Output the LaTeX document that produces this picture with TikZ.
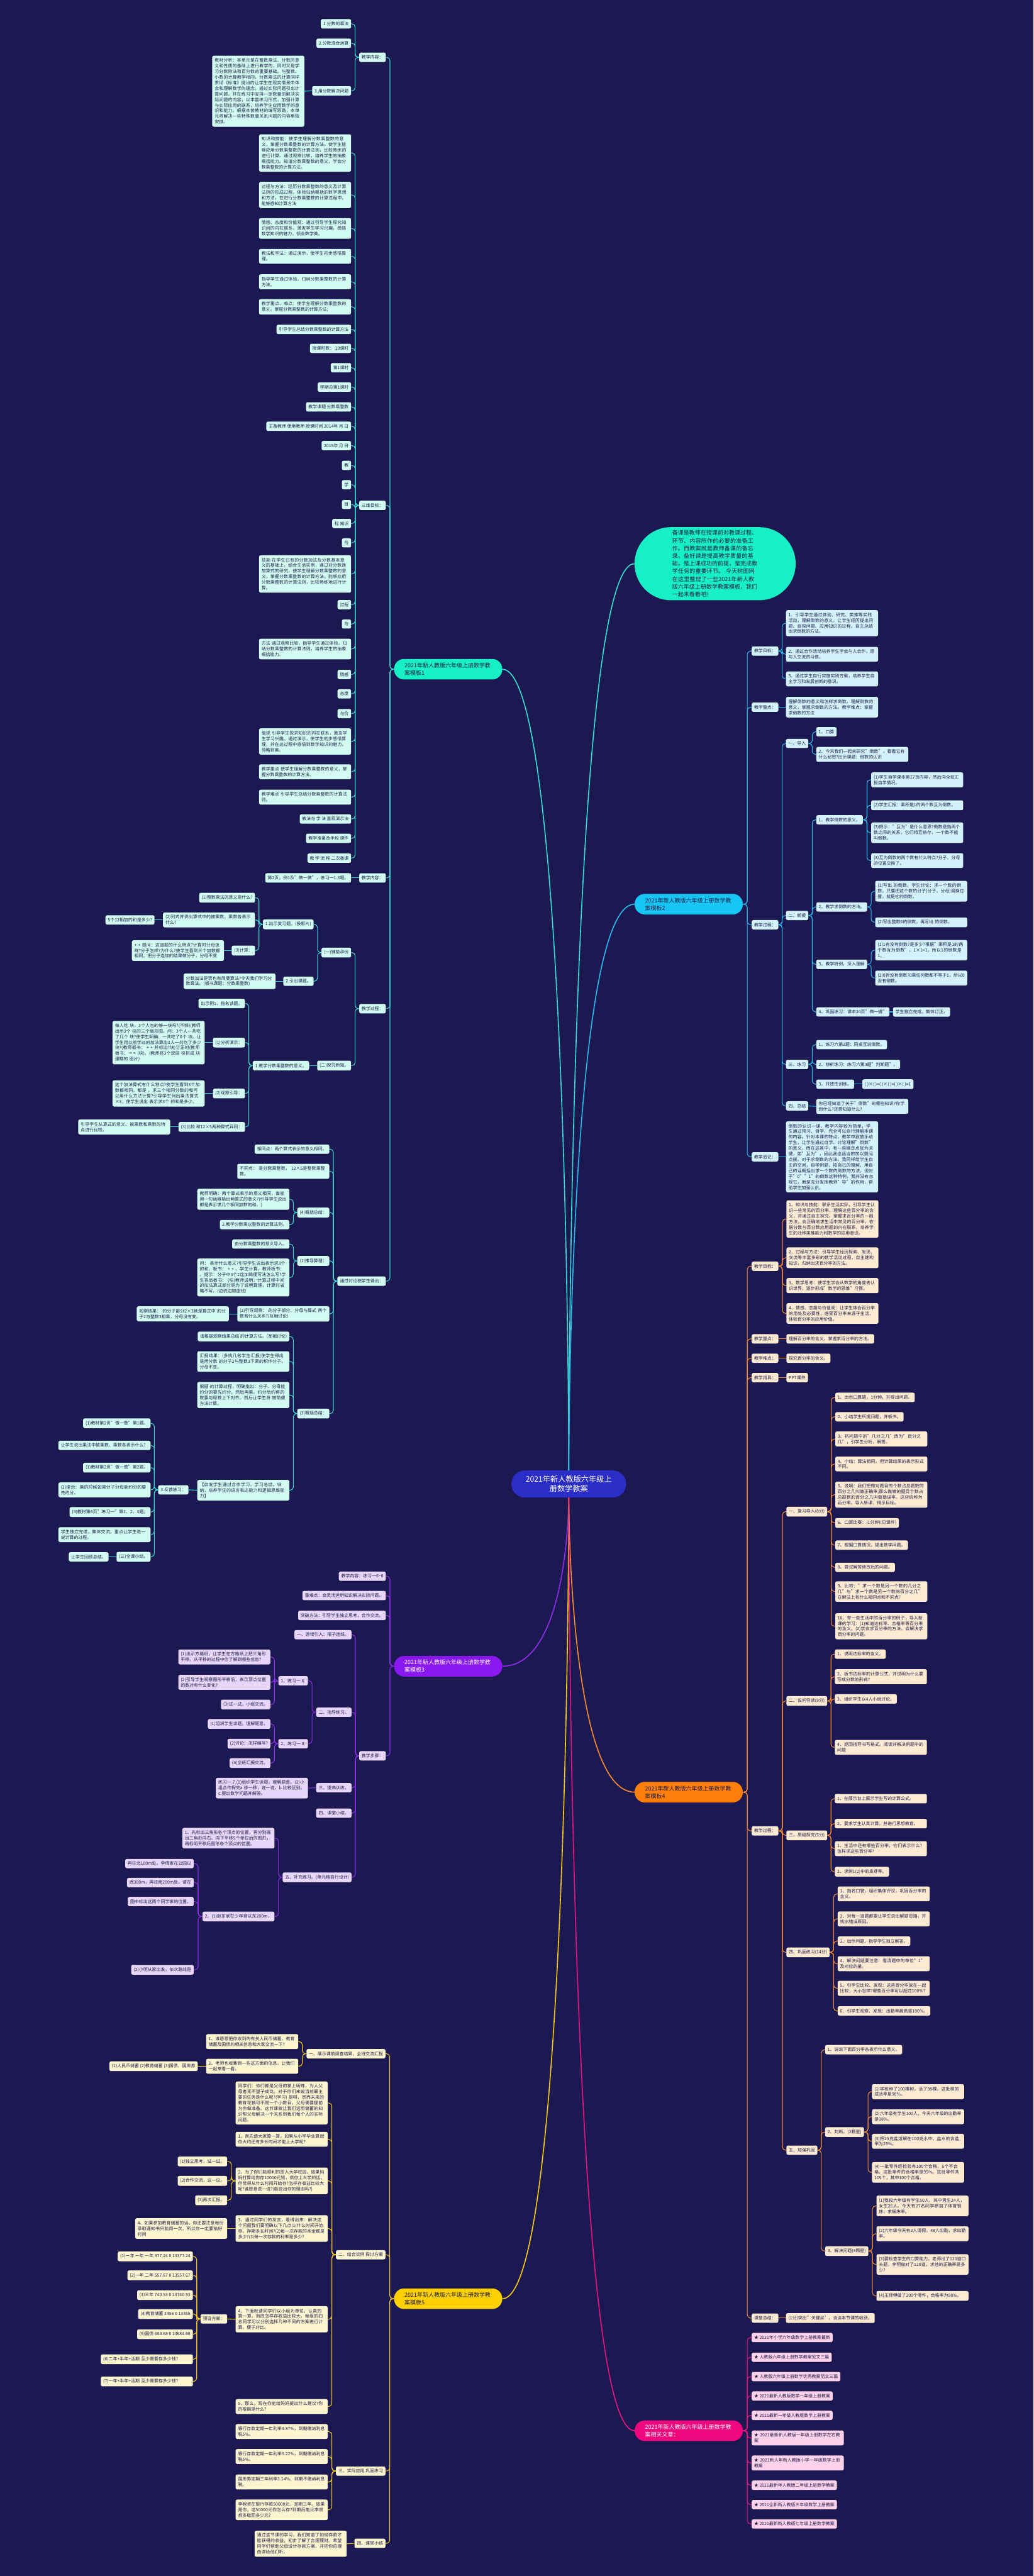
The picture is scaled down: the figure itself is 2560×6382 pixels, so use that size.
\documentclass[tikz,border=0pt]{standalone}
\usepackage{fontspec}
\setmainfont{Noto Sans CJK SC}
\usetikzlibrary{calc}
\XeTeXlinebreaklocale "zh"
\XeTeXlinebreakskip=0pt plus 1pt
\definecolor{bgc}{HTML}{1B1852}
\definecolor{dtx}{HTML}{1C1C48}
\definecolor{cC}{HTML}{2A2DC6}
\definecolor{gB}{HTML}{17F0C4}\definecolor{gf}{HTML}{D2FCF1}\definecolor{gL}{HTML}{36D8D0}
\definecolor{cB}{HTML}{17C6F4}\definecolor{cf}{HTML}{D3F2FB}\definecolor{cL}{HTML}{2AB8EA}
\definecolor{oB}{HTML}{FF7F0A}\definecolor{of}{HTML}{FDEAD3}\definecolor{oL}{HTML}{F58A2E}
\definecolor{pB}{HTML}{8A18F0}\definecolor{pf}{HTML}{E7D6FA}\definecolor{pL}{HTML}{8F2DEB}
\definecolor{yB}{HTML}{FFD100}\definecolor{yf}{HTML}{FDF4D0}\definecolor{yL}{HTML}{F3C614}
\definecolor{mB}{HTML}{EF087D}\definecolor{mf}{HTML}{FDD2EA}\definecolor{mL}{HTML}{E3167F}
\colorlet{fc}{gf}\colorlet{lc}{gL}
\tikzset{
 lf/.style={fill=fc,text=dtx,rounded corners=4pt,inner xsep=6pt,inner ysep=6.5pt,align=left,font=\fontsize{10.8}{13.9}\selectfont},
 w/.style={text width=216pt},
 lk/.style={draw=lc,line width=1.7pt,rounded corners=8pt},
 br/.style={rounded corners=25pt,inner xsep=26pt,inner ysep=6pt,text width=216pt,minimum height=51pt,align=left,font=\fontsize{14}{19}\selectfont},
 cv/.style={line width=2.6pt},
}
\newcommand\nl[5]{\node[lf,anchor=east,#1] (#2) at (#3,#4) {#5};}
\newcommand\nr[5]{\node[lf,anchor=west,#1] (#2) at (#3,#4) {#5};}
\newcommand\kL[2]{\foreach \kk in {#2}{\draw[lk] (#1.west) -| ($(#1.west)!.5!(\kk.east)$) |- (\kk.east);}}
\newcommand\kR[2]{\foreach \kk in {#2}{\draw[lk] (#1.east) -| ($(#1.east)!.5!(\kk.west)$) |- (\kk.west);}}
\newcommand\sL[2]{\draw[lk] (#1.west) -- (#2.east);}
\newcommand\sR[2]{\draw[lk] (#1.east) -- (#2.west);}
\begin{document}
\begin{tikzpicture}[x=1pt,y=-1pt]
\useasboundingbox (0,0) rectangle (2560,6382);
\fill[bgc] (0,0) rectangle (2560,6382);

% ===== center and intro =====
\node[fill=cC,text=white,rounded corners=33pt,minimum width=284pt,minimum height=67pt,align=center,font=\fontsize{19}{24}\selectfont] (C) at (1409,3676.5) {2021年新人教版六年级上\\册数学教案};
\node[fill=gB,text=dtx,rounded corners=90pt,minimum width=399pt,minimum height=181pt,text width=212pt,align=left,font=\fontsize{14}{19}\selectfont] (I) at (1771.5,1396.5) {备课是教师在授课前对教课过程、环节、内容所作的必要的准备工作。而教案就是教师备课的备忘录。备好课是提高教学质量的基础，是上课成功的前提，是完成教学任务的重要环节。 今天树图网在这里整理了一些2021年新人教版六年级上册数学教案模板，我们一起来看看吧!};

% ===== GREEN branch (template 1) =====
\begin{scope}
\colorlet{fc}{gf}\colorlet{lc}{gL}
\node[br,fill=gB,text=dtx,anchor=west] (G) at (976,1658) {2021年新人教版六年级上册数学教\\案模板1};
\nl{}{g1}{956}{142}{教学内容：}
\nl{}{g2}{956}{1252}{三维目标：}
\nl{}{g3}{956}{2175}{教学内容：}
\nl{}{g4}{956}{2499}{教学过程：}
\nl{}{g5}{956}{3174}{通过讨论使学生得出：}
\kL{G}{g1,g2,g3,g4,g5}
\nl{}{g1a}{870}{59}{1.分数的乘法}
\nl{}{g1b}{870}{107}{2.分数混合运算}
\nl{}{g1c}{870}{225}{3.用分数解决问题}
\kL{g1}{g1a,g1b,g1c}
\nl{w}{g1c1}{754}{226}{教材分析：本单元是在整数乘法、分数的意义和性质的基础上进行教学的，同时又是学习分数除法和百分数的重要基础。与整数、小数的计算教学相同，分数乘法的计算同样贯彻《标准》提出的让学生在现实情景中体会和理解数学的理念，通过实际问题引出计算问题，并在练习中安排一定数量的解决实际问题的内容，以丰富练习形式，加强计算与实际应用的联系，培养学生应用数学的意识和能力。根据本套教材的编写思路，本单元将解决一些特殊数量关系问题的内容单独安排。}
\sL{g1c}{g1c1}
\nl{w}{g2a}{870}{379}{知识和技能：使学生理解分数乘整数的意义，掌握分数乘整数的计算方法。使学生能够应用分数乘整数的计算法则，比较熟练的进行计算。通过观察比较，培养学生的抽象概括能力。知道分数乘整数的意义，学会分数乘整数的计算方法。}
\nl{w}{g2b}{870}{483}{过程与方法：经历分数乘整数的意义及计算法则的形成过程，体验归纳概括的数学思想和方法。在进行分数乘整数的计算过程中，能够感知计算方法}
\nl{w}{g2c}{870}{566}{情感、态度和价值观：通过引导学生探究知识间的内在联系，激发学生学习兴趣，感悟数学知识的魅力，领会数学美。}
\nl{w}{g2d}{870}{635}{教法和学法：通过演示，使学生初步感悟算理。}
\nl{w}{g2e}{870}{698}{指导学生通过体验，归纳分数乘整数的计算方法。}
\nl{w}{g2f}{870}{760}{教学重点、难点：使学生理解分数乘整数的意义。掌握分数乘整数的计算方法;}
\nl{}{g2g}{870}{816}{引导学生总结分数乘整数的计算方法}
\nl{}{g2h}{870}{863}{授课时数： 10课时}
\nl{}{g2i}{870}{911}{第1课时}
\nl{}{g2j}{870}{959}{学期总第1课时}
\nl{}{g2k}{870}{1008}{教学课题 分数乘整数}
\nl{}{g2l}{870}{1056}{主备教师 使用教师 授课时间 2014年 月 日}
\nl{}{g2m}{870}{1104}{2015年 月 日}
\nl{}{g2n}{870}{1153}{教}
\nl{}{g2o}{870}{1201}{学}
\nl{}{g2p}{870}{1250}{目}
\nl{}{g2q}{870}{1297}{标 知识}
\nl{}{g2r}{870}{1345}{与}
\nl{w}{g2s}{870}{1422}{技能 在学生已有的分数加法及分数基本意义的基础上，结合生活实例，通过对分数连加算式的研究，使学生理解分数乘整数的意义，掌握分数乘整数的计算方法，能够应用分数乘整数的计算法则，比较熟练地进行计算。}
\nl{}{g2t}{870}{1498}{过程}
\nl{}{g2u}{870}{1546}{与}
\nl{w}{g2v}{870}{1608}{方法 通过观察比较，指导学生通过体验，归纳分数乘整数的计算法则，培养学生的抽象概括能力。}
\nl{}{g2w}{870}{1671}{情感}
\nl{}{g2x}{870}{1719}{态度}
\nl{}{g2y}{870}{1768}{与价}
\nl{w}{g2z}{870}{1837}{值观 引导学生探求知识的内在联系，激发学生学习兴趣。通过演示，使学生初步感悟算理，并在这过程中感悟到数学知识的魅力，领略到美。}
\nl{w}{g2A}{870}{1912}{教学重点 使学生理解分数乘整数的意义，掌握分数乘整数的计算方法。}
\nl{w}{g2B}{870}{1975}{教学难点 引导学生总结分数乘整数的计算法则。}
\nl{}{g2C}{870}{2029}{教法与 学 法 直观演示法}
\nl{}{g2D}{870}{2077}{教学准备及手段 课件}
\nl{}{g2E}{870}{2126}{教 学 流 程 二次备课}
\kL{g2}{g2a,g2b,g2c,g2d,g2e,g2f,g2g,g2h,g2i,g2j,g2k,g2l,g2m,g2n,g2o,g2p,g2q,g2r,g2s,g2t,g2u,g2v,g2w,g2x,g2y,g2z,g2A,g2B,g2C,g2D,g2E}
\nl{}{g3a}{870}{2175}{第2页，例1及"做一做"，练习一1-3题。}
\sL{g3}{g3a}
\nl{}{g4a}{870}{2360}{(一)铺垫孕伏}
\nl{}{g4b}{870}{2640}{(二)探究新知。}
\kL{g4}{g4a,g4b}
\nl{}{g4a1}{777}{2290}{1.出示复习题。(投影片)}
\nl{}{g4a2}{777}{2431}{2.引出课题。}
\kL{g4a}{g4a1,g4a2}
\nl{}{g4a1a}{632}{2224}{(1)整数乘法的意义是什么?}
\nl{w}{g4a1b}{632}{2279}{(2)列式并说出算式中的被乘数、乘数各表示什么?}
\nl{}{g4a1c}{632}{2355}{(3)计算：}
\kL{g4a1}{g4a1a,g4a1b,g4a1c}
\nl{}{g4a1b1}{383}{2279}{5个12相加的和是多少?}
\sL{g4a1b}{g4a1b1}
\nl{w}{g4a1c1}{555}{2355}{+ + 提问：这道题的什么特点?计算时分母怎样?分子怎样?为什么?使学生看到三个加数都相同，把分子连加的结果做分子，分母不变}
\sL{g4a1c}{g4a1c1}
\nl{w}{g4a2a}{683}{2431}{分数加法是否也有简便算法?今天我们学习分数乘法。(板书课题：分数乘整数)}
\sL{g4a2}{g4a2a}
\nl{}{g4b1}{766}{2640}{1.教学分数乘整数的意义。}
\sL{g4b}{g4b1}
\nl{}{g4b1a}{607}{2486}{出示例1，指名读题。}
\nl{}{g4b1b}{607}{2583}{(1)分析演示：}
\nl{}{g4b1c}{607}{2709}{(2)观察引导：}
\nl{}{g4b1d}{607}{2792}{(3)比较 和12×5两种算式异同：}
\kL{g4b1}{g4b1a,g4b1b,g4b1c,g4b1d}
\nl{w}{g4b1b1}{507}{2583}{每人吃 块，3个人吃的够一块吗?(不够)(教师出示3个 块的三个扇形图。问：3个人一共吃了几个 块?使学生明确：一共吃了6个 块。让学生用以前学过的加法算出3人一共吃了多少块?(教师板书： + + 并标出?块)订正时(教师板书： = = (块)。(教师将3个双层 块拼成 块蛋糕的 图片)}
\sL{g4b1b}{g4b1b1}
\nl{w}{g4b1c1}{507}{2709}{这个加法算式有什么特点?使学生看到3个加数都相同，都是 ，求三个相同分数的和可以用什么方法计算?引导学生列出乘法算式 ×3，使学生说出 表示求3个 的和是多少。}
\sL{g4b1c}{g4b1c1}
\nl{w}{g4b1d1}{422}{2792}{引导学生从算式的意义、被乘数和乘数的特点进行比较。}
\sL{g4b1d}{g4b1d1}
\nl{}{g5a}{816}{2847}{相同点：两个算式表示的意义相同。}
\nl{w}{g5b}{816}{2902}{不同点： 是分数乘整数， 12×5是整数乘整数。}
\nl{}{g5c}{816}{3004}{(4)概括总结：}
\nl{}{g5d}{816}{3124}{(1)推导算理：}
\nl{w}{g5e}{816}{3255}{(2)引导观察： 的分子部分、分母与算式 两个数有什么关系?(互相讨论)}
\nl{}{g5f}{816}{3502}{(3)概括总结：}
\kL{g5}{g5a,g5b,g5c,g5d,g5e,g5f}
\nl{w}{g5c1}{717}{2971}{教师明确：两个算式表示的意义相同，谁能用一句话概括出两算式的意义?(引导学生说出都是表示求几个相同加数的和。)}
\nl{}{g5c2}{717}{3034}{2.教学分数乘以整数的计算法则。}
\kL{g5c}{g5c1,g5c2}
\nl{}{g5d1}{717}{3082}{由分数乘整数的意义导入。}
\nl{w}{g5d2}{717}{3165}{问： 表示什么意义?引导学生说出表示求3个 的和。板书： + + 。学生计算，教师板书： 。提示：分子中3个2连加简便写法怎么写?学生答后板书： (块)教师说明：计算过程中间的加法算式部分是为了说明算理，计算时省略不写。(边说边加虚线)}
\kL{g5d}{g5d1,g5d2}
\nl{w}{g5e1}{567}{3255}{观察结果： 的分子部分2×3就是算式中 的分子2与整数3相乘，分母没有变。}
\sL{g5e}{g5e1}
\nl{}{g5f1}{717}{3311}{请根据观察结果总结 的计算方法。(互相讨论)}
\nl{w}{g5f2}{717}{3373}{汇报结果：(多找几名学生汇报)使学生得出 是用分数 的分子2与整数3下乘的积作分子，分母不变。}
\nl{w}{g5f3}{717}{3456}{根据 的计算过程，明确指出：分子、分母能约分的要先约分，然后再乘。约分后约得的数要与原数上下对齐。然后让学生将 按简便方法计算。}
\nl{w}{g5f4}{717}{3692}{【启发学生通过合作学习，学习总结、归纳，培养学生的语言表达能力和逻辑思维能力】}
\kL{g5f}{g5f1,g5f2,g5f3,g5f4}
\nl{}{g5f4a}{467}{3691}{3.反馈练习：}
\sL{g5f4}{g5f4a}
\nl{}{h1}{373}{3526}{(1)教材第2页"做一做"第1题。}
\nl{w}{h2}{373}{3581}{让学生说出乘法中被乘数、乘数各表示什么?}
\nl{}{h3}{373}{3636}{(1)教材第2页"做一做"第2题。}
\nl{w}{h4}{373}{3691}{(2)提示：乘的时候如果分子分母能约分的要先约分。}
\nl{}{h5}{373}{3746}{(3)教材第6页"练习一"第1、2、3题。}
\nl{w}{h6}{373}{3802}{学生独立完成，集体交流，重点让学生说一说计算的过程。}
\nl{}{h7}{373}{3857}{(三)全课小结。}
\kL{g5f4a}{h1,h2,h3,h4,h5,h6,h7}
\nl{}{h7a}{269}{3857}{让学生回顾总结。}
\sL{h7}{h7a}
\end{scope}

% ===== PURPLE branch (template 3) =====
\begin{scope}
\colorlet{fc}{pf}\colorlet{lc}{pL}
\node[br,fill=pB,text=white,anchor=west] (P) at (976,4128) {2021年新人教版六年级上册数学教\\案模板3};
\nl{}{p1}{956}{3905}{教学内容：练习一6\textasciitilde 8}
\nl{}{p2}{956}{3953}{重难点：会灵活运用知识解决实际问题。}
\nl{}{p3}{956}{4002}{突破方法：引导学生独立思考，合作交流。}
\nl{}{p4}{956}{4350}{教学步骤：}
\kL{P}{p1,p2,p3,p4}
\nl{}{p4a}{871}{4050}{一、游戏引入：摆子连线。}
\nl{}{p4b}{871}{4242}{二、指导练习。}
\nl{}{p4c}{871}{4429}{三、提高训练。}
\nl{}{p4d}{871}{4492}{四、课堂小结。}
\nl{}{p4e}{871}{4651}{五、补充练习。(单元格自行设计)}
\kL{p4}{p4a,p4b,p4c,p4d,p4e}
\nl{}{p4b1}{763}{4164}{1、练习一.6.}
\nl{}{p4b2}{763}{4320}{2、练习一.8.}
\kL{p4b}{p4b1,p4b2}
\nl{w}{p4b1a}{670}{4105}{(1)出示方格纸，让学生在方格纸上把三角形平移。从平移的过程中你了解到哪些信息?}
\nl{w}{p4b1b}{670}{4168}{(2)引导学生观察图形平移后，表示顶点位置的数对有什么变化?}
\nl{}{p4b1c}{670}{4223}{(3)试一试，小组交流。}
\kL{p4b1}{p4b1a,p4b1b,p4b1c}
\nl{}{p4b2a}{670}{4271}{(1)组织学生读题，理解题意。}
\nl{}{p4b2b}{670}{4320}{(2)讨论：怎样编号?}
\nl{}{p4b2c}{670}{4368}{(3)全班汇报交流。}
\kL{p4b2}{p4b2a,p4b2b,p4b2c}
\nl{w}{p4c1}{763}{4430}{练习一.7.(1)组织学生读题，理解题意。(2)小组合作探究a.移一移，说一说。b.比较区别。c.提出数学问题并解答。}
\sL{p4c}{p4c1}
\nl{w}{p4e1}{680}{4554}{1、先标出三角形各个顶点的位置，再分别画出三角形向右、向下平移5个单位后的图形，再标明平移后图形各个顶点的位置。}
\nl{}{p4e2}{680}{4748}{2、(1)赵东家在少年宫以东200m，}
\kL{p4e}{p4e1,p4e2}
\nl{}{p4e2a}{480}{4617}{再往北100m处。李倩家在公园以}
\nl{}{p4e2b}{480}{4664}{西300m，再往南200m处。请在}
\nl{}{p4e2c}{480}{4711}{图中标出这两个同学家的位置。}
\nl{}{p4e2d}{480}{4880}{(2)小明从家出发，依次路线是}
\kL{p4e2}{p4e2a,p4e2b,p4e2c,p4e2d}
\end{scope}

% ===== YELLOW branch (template 5) =====
\begin{scope}
\colorlet{fc}{yf}\colorlet{lc}{yL}
\node[br,fill=yB,text=dtx,anchor=west] (Y) at (976,5695) {2021年新人教版六年级上册数学教\\案模板5};
\nl{}{y1}{955}{5088}{一、展示课前调查结果，全班交流汇报}
\nl{}{y2}{955}{5586}{二、结合实例 探讨方案}
\nl{}{y3}{955}{6122}{三、实际应用 巩固练习}
\nl{}{y4}{955}{6301}{四、课堂小结}
\kL{Y}{y1,y2,y3,y4}
\nl{w}{y1a}{739}{5058}{1、谁愿意把你收到的有关人民币储蓄、教育储蓄及国债的相关信息和大家交流一下?}
\nl{w}{y1b}{739}{5119}{2、老师也收集到一些这方面的信息，让我们一起来看一看。}
\kL{y1}{y1a,y1b}
\nl{}{y1b1}{490}{5119}{(1)人民币储蓄 (2)教育储蓄 (3)国债、国库券}
\sL{y1b}{y1b1}
\nl{w}{y2a}{812}{5210}{同学们：你们都是父母的掌上明珠，为人父母者无不望子成龙。对于你们来说当前最主要的任务是什么呢?(学习) 是呀，然而未来的教育花销可不是一个小数目，父母需要提前为你做准备。这节课就让我们运用储蓄的知识帮父母解决一个关系到我们每个人的实际问题。}
\nl{w}{y2b}{812}{5300}{1、首先请大家算一算，如果从小学毕业算起你大约还有多长时间才能上大学呢?}
\nl{w}{y2c}{812}{5403}{2、为了你们能顺利的走入大学校园，如果妈妈打算给你存10000元钱，供你上大学的话，你觉得从什么时间开始存?怎样存收益比较大呢?谁愿意说一说?(能说出你的理由吗?)}
\nl{w}{y2d}{812}{5521}{3、通过同学们的发言，看得出来：解决这个问题我们要明确以下几点(1)什么时间开始存，存期多长时间?(2)每一次存款的本金都是多少?(3)每一次存款的利率是多少?}
\nl{w}{y2e}{812}{5746}{4、下面就请同学们以小组为单位，认真的算一算，到底怎样存收益比较大。每组的四名同学可以分别选择几种不同的方案进行计算，便于对比。}
\nl{w}{y2f}{812}{5962}{5、那么，现在你能给妈妈提出什么建议?你的根据是什么?}
\kL{y2}{y2a,y2b,y2c,y2d,y2e,y2f}
\nl{}{y2c1}{563}{5355}{(1)独立思考，试一试。}
\nl{}{y2c2}{563}{5403}{(2)合作交流，议一议。}
\nl{}{y2c3}{563}{5451}{(3)再次汇报。}
\kL{y2c}{y2c1,y2c2,y2c3}
\nl{w}{y2d1}{563}{5521}{4、如果参加教育储蓄的话，你还要注意每份录取通知书只能用一次，所以你一定要掐好时间}
\sL{y2d}{y2d1}
\nl{}{y2e1}{563}{5745}{预设方案：}
\sL{y2e}{y2e1}
\nl{}{y2e1a}{478}{5590}{(1)一年 一年 一年 377.24 0 13377.24}
\nl{}{y2e1b}{478}{5637}{(2)一年 二年 557.67 0 13557.67}
\nl{}{y2e1c}{478}{5686}{(3)三年 740.53 0 13740.53}
\nl{}{y2e1d}{478}{5733}{(4)教育储蓄 3456 0 13456}
\nl{}{y2e1e}{478}{5783}{(5)国债 684.68 0 13684.68}
\nl{w}{y2e1f}{478}{5845}{(6)二年+半年+活期 至少需要存多少钱?}
\nl{w}{y2e1g}{478}{5900}{(7)一年+半年+活期 至少需要存多少钱?}
\kL{y2e1}{y2e1a,y2e1b,y2e1c,y2e1d,y2e1e,y2e1f,y2e1g}
\nl{w}{y3a}{812}{6024}{银行存款定期一年利率3.87\%，到期缴纳利息税5\%。}
\nl{w}{y3b}{812}{6086}{银行存款定期一年利率5.22\%，到期缴纳利息税5\%。}
\nl{w}{y3c}{812}{6149}{国库券定期三年利率3.14\%，到期不缴纳利息税。}
\nl{w}{y3d}{812}{6218}{李叔叔在银行存款50000元，定期三年。如果是你，这50000元你怎么存?到期后能比李叔叔多取回多少元?}
\kL{y3}{y3a,y3b,y3c,y3d}
\nl{w}{y4a}{859}{6302}{通过这节课的学习，我们知道了如何存款才能获得的收益，初步了解了合理理财。希望同学们帮助父母设计存款方案，并把你的理由讲给他们听。}
\sL{y4}{y4a}
\end{scope}

% ===== CYAN branch (template 2) =====
\begin{scope}
\colorlet{fc}{cf}\colorlet{lc}{cL}
\node[br,fill=cB,text=dtx,anchor=west] (B) at (1572,2240) {2021年新人教版六年级上册数学教\\案模板2};
\nr{}{b1}{1862}{1613}{教学目标：}
\nr{}{b2}{1862}{1752}{教学重点：}
\nr{}{b3}{1862}{2291}{教学过程：}
\nr{}{b4}{1862}{2866}{教学追记：}
\kR{B}{b1,b2,b3,b4}
\nr{w}{b1a}{1947}{1544}{1、引导学生通过体验、研究、类推等实践活动，理解倒数的意义，让学生经历提出问题、自探问题、应用知识的过程，自主总结出求倒数的方法。}
\nr{w}{b1b}{1947}{1621}{2、通过合作活动培养学生学会与人合作，愿与人交流的习惯。}
\nr{w}{b1c}{1947}{1682}{3、通过学生自行实施实践方案，培养学生自主学习和发展创新的意识。}
\kR{b1}{b1a,b1b,b1c}
\nr{w}{b2a}{1947}{1752}{理解倒数的意义和怎样求倒数。理解倒数的意义，掌握求倒数的方法。教学难点：掌握求倒数的方法}
\sR{b2}{b2a}
\nr{}{b3a}{1947}{1842}{一、导入}
\nr{}{b3b}{1947}{2268}{二、新授}
\nr{}{b3c}{1947}{2637}{三、练习}
\nr{}{b3d}{1947}{2740}{四、总结}
\kR{b3}{b3a,b3b,b3c,b3d}
\nr{}{b3a1}{2022}{1813}{1、口算}
\nr{w}{b3a2}{2022}{1869}{2、今天我们一起来研究"倒数"，看看它有什么秘密?出示课题：倒数的认识}
\kR{b3a}{b3a1,b3a2}
\nr{}{b3b1}{2022}{2031}{1、教学倒数的意义。}
\nr{}{b3b2}{2022}{2247}{2、教学求倒数的方法。}
\nr{}{b3b3}{2022}{2389}{3、教学特例，深入理解}
\nr{}{b3b4}{2022}{2507}{4、巩固练习：课本24页"做一做"}
\kR{b3b}{b3b1,b3b2,b3b3,b3b4}
\nr{w}{b3b1a}{2158}{1932}{(1)学生自学课本第27页内容，然后向全班汇报自学情况。}
\nr{w}{b3b1b}{2158}{1995}{(2)学生汇报：乘积是1的两个数互为倒数。}
\nr{w}{b3b1c}{2158}{2063}{(3)提示："互为"是什么意思?倒数是指两个数之间的关系，它们相互依存，一个数不能叫倒数。}
\nr{w}{b3b1d}{2158}{2132}{(3)互为倒数的两个数有什么特点?分子、分母的位置交换了。}
\kR{b3b1}{b3b1a,b3b1b,b3b1c,b3b1d}
\nr{w}{b3b2a}{2168}{2208}{(1)写出 的倒数。学生讨论：求一个数的倒数，只要把这个数的分子(分子、分母)调换位置，就是它的倒数。}
\nr{w}{b3b2b}{2168}{2285}{(2)写出整数6的倒数，再写出 的倒数。}
\kR{b3b2}{b3b2a,b3b2b}
\nr{w}{b3b3a}{2168}{2354}{(1)1有没有倒数?是多少?根据"乘积是1的两个数互为倒数"，1×1=1，所以1的倒数是1。}
\nr{w}{b3b3b}{2168}{2423}{(2)0有没有倒数?0乘任何数都不等于1，所以0没有倒数。}
\kR{b3b3}{b3b3a,b3b3b}
\nr{}{b3b4a}{2212}{2507}{学生独立完成，集体订正。}
\sR{b3b4}{b3b4a}
\nr{}{b3c1}{2022}{2588}{1、练习六第2题：同桌互说倒数。}
\nr{}{b3c2}{2022}{2637}{2、辨析练习：练习六第3题"判断题"。}
\nr{}{b3c3}{2022}{2686}{3、开放性训练。}
\kR{b3c}{b3c1,b3c2,b3c3}
\nr{}{b3c3a}{2136}{2686}{( )×( )=( )×( )=( )×( )=1}
\sR{b3c3}{b3c3a}
\nr{w}{b3d1}{2022}{2741}{你已经知道了关于"倒数"的哪些知识?你学到什么?还想知道什么?}
\sR{b3d}{b3d1}
\nr{w}{b4a}{1947}{2866}{倒数的认识一课，教学内容较为简单，学生通过预习、自学，完全可以自行理解本课的内容。针对本课的特点，教学中我放手给学生，让学生通过自学、讨论理解"倒数"的意义，而在这其中，有一些概念点犹为关键，如"互为"，因此我也适当的加以提问点拨。对于求倒数的方法，我同样给学生自主的空间，自学例题，按自己的理解、用自己的话概括出求一个数的倒数的方法。但对于"0""1"的倒数这种特例，我并没有忽视它，而是充分发挥教师"导"的作用，帮助学生加强认识。}
\sR{b4}{b4a}
\end{scope}

% ===== ORANGE branch (template 4) =====
\begin{scope}
\colorlet{fc}{of}\colorlet{lc}{oL}
\node[br,fill=oB,text=dtx,anchor=west] (O) at (1572,4440) {2021年新人教版六年级上册数学教\\案模板4};
\nr{}{o1}{1862}{3137}{教学目标：}
\nr{}{o2}{1862}{3317}{教学重点：}
\nr{}{o3}{1862}{3365}{教学难点：}
\nr{}{o4}{1862}{3413}{教学用具：}
\nr{}{o5}{1862}{4536}{教学过程：}
\nr{}{o6}{1862}{5743}{课堂总结：}
\kR{O}{o1,o2,o3,o4,o5,o6}
\nr{w}{o1a}{1948}{3020}{1、知识与技能：联系生活实际，引导学生认识一些常见的百分率，理解这些百分率的含义，并通过自主探究，掌握求百分率的一般方法，会正确地求生活中常见的百分率，依据分数与百分数应用题的内在联系，培养学生的迁移类推能力和数学的应用意识。}
\nr{w}{o1b}{1948}{3116}{2、过程与方法：引导学生经历探索、发现、交流等丰富多彩的数学活动过程，自主建构知识，归纳出求百分率的方法。}
\nr{w}{o1c}{1948}{3185}{3、数学思考：使学生学会从数学的角度去认识世界，逐步形成"数学的思维"习惯。}
\nr{w}{o1d}{1948}{3254}{4、情感、态度与价值观：让学生体会百分率的用处及必要性，感受百分率来源于生活，体验百分率的应用价值。}
\kR{o1}{o1a,o1b,o1c,o1d}
\nr{}{o2a}{1948}{3317}{理解百分率的含义，掌握求百分率的方法。}
\sR{o2}{o2a}
\nr{}{o3a}{1948}{3365}{探究百分率的含义。}
\sR{o3}{o3a}
\nr{}{o4a}{1948}{3413}{PPT课件}
\sR{o4}{o4a}
\nr{}{o5a}{1948}{3745}{一、复习导入(8分)}
\nr{}{o5b}{1948}{4214}{二、设问导读(9分)}
\nr{}{o5c}{1948}{4547}{三、质疑探究(5分)}
\nr{}{o5d}{1948}{4837}{四、巩固练习(14分)}
\nr{}{o5e}{1948}{5327}{五、加强巩固}
\kR{o5}{o5a,o5b,o5c,o5d,o5e}
\nr{}{o5a1}{2069}{3462}{1、出示口算题，1分钟，并提出问题。}
\nr{}{o5a2}{2069}{3510}{2、小结学生所提问题，并板书。}
\nr{w}{o5a3}{2069}{3565}{3、将问题中的"几分之几"改为"百分之几"，引学生分析、解答。}
\nr{w}{o5a4}{2069}{3627}{4、小结：算法相同，但计算结果的表示形式不同。}
\nr{w}{o5a5}{2069}{3703}{5、说明：我们把做对题目的个数占总题数的百分之几叫做正确率;那么做错的题目个数占总题数的百分之几叫做错误率。这些统称为百分率。导入新课，揭示目标。}
\nr{}{o5a6}{2069}{3773}{6、口算比赛：(1分钟)(见课件)}
\nr{}{o5a7}{2069}{3828}{7、根据口算情况，提出数学问题。}
\nr{}{o5a8}{2069}{3883}{8、尝试解答修改后的问题。}
\nr{w}{o5a9}{2069}{3943}{9、比较："求一个数是另一个数的几分之几"与"求一个数是另一个数的百分之几"在解法上有什么相同点和不同点?}
\nr{w}{o5a10}{2069}{4029}{10、举一些生活中的百分率的例子，导入新课的学习：(1)知道达标率、合格率等百分率的含义。(2)学会求百分率的方法，会解决求百分率的问题。}
\kR{o5a}{o5a1,o5a2,o5a3,o5a4,o5a5,o5a6,o5a7,o5a8,o5a9,o5a10}
\nr{}{o5b1}{2068}{4098}{1、说明达标率的含义。}
\nr{w}{o5b2}{2068}{4154}{2、板书达标率的计算公式，并说明为什么要写成分数的形式?}
\nr{}{o5b3}{2068}{4209}{3、组织学生以4人小组讨论。}
\nr{w}{o5b4}{2068}{4329}{4、巡回指导书写格式。阅读并解决例题中的问题}
\kR{o5b}{o5b1,o5b2,o5b3,o5b4}
\nr{w}{o5c1}{2068}{4456}{1、在展示台上展示学生写的计算公式。}
\nr{w}{o5c2}{2068}{4518}{2、要求学生认真计算，并进行思想教育。}
\nr{w}{o5c3}{2068}{4580}{1、生活中还有哪些百分率，它们表示什么?怎样求这些百分率?}
\nr{}{o5c4}{2068}{4637}{2、求例1(2)中的发芽率。}
\kR{o5c}{o5c1,o5c2,o5c3,o5c4}
\nr{w}{o5d1}{2075}{4692}{1、指名口答，组织集体评议，巩固百分率的含义。}
\nr{w}{o5d2}{2075}{4754}{2、对每一道题都要让学生说出解题思路，并找出错误原因。}
\nr{}{o5d3}{2075}{4809}{3、出示问题，指导学生独立解答。}
\nr{w}{o5d4}{2075}{4865}{4、解决问题要注意：看清题中的单位"1"及对应的量。}
\nr{w}{o5d5}{2075}{4926}{5、引学生比较、发现：这些百分率放在一起比较，大小怎样?哪些百分率可以超过100\%?}
\nr{}{o5d6}{2075}{4982}{6、引学生观察、发现：出勤率最高是100\%。}
\kR{o5d}{o5d1,o5d2,o5d3,o5d4,o5d5,o5d6}
\nr{}{o5e1}{2044}{5078}{1、说说下面百分率各表示什么意义。}
\nr{}{o5e2}{2044}{5282}{2、判断。(2颗星)}
\nr{}{o5e3}{2044}{5577}{3、解决问题(3颗星)}
\kR{o5e}{o5e1,o5e2,o5e3}
\nr{w}{o5e2a}{2160}{5182}{(1)学校种了100棵树，活了98棵，这批树的成活率是98\%。}
\nr{w}{o5e2b}{2160}{5244}{(2)六年级有学生100人，今天六年级的出勤率是98\%。}
\nr{w}{o5e2c}{2160}{5305}{(3)把25克盐溶解在100克水中，盐水的含盐率为25\%。}
\nr{w}{o5e2d}{2160}{5382}{(4)一批零件经检验有100个合格，5个不合格，这批零件的合格率是95\%。这批零件共105个，其中100个合格。}
\kR{o5e2}{o5e2a,o5e2b,o5e2c,o5e2d}
\nr{w}{o5e3a}{2171}{5465}{(1)我校六年级有学生50人，其中男生24人，女生26人。今天有27名同学参加了体育锻炼，求锻炼率。}
\nr{w}{o5e3b}{2171}{5534}{(2)六年级今天有2人请假，48人出勤，求出勤率。}
\nr{w}{o5e3c}{2171}{5610}{(3)要检查学生的口算能力，老师出了120道口头题，李明做对了120道，求他的正确率是多少?}
\nr{w}{o5e3d}{2171}{5688}{(4)王师傅做了200个零件，合格率为98\%。}
\kR{o5e3}{o5e3a,o5e3b,o5e3c,o5e3d}
\nr{}{o6a}{1947}{5743}{(1分)突出"关键点"。谈谈本节课的收获。}
\sR{o6}{o6a}
\end{scope}

% ===== MAGENTA branch =====
\begin{scope}
\colorlet{fc}{mf}\colorlet{lc}{mL}
\node[br,fill=mB,text=white,anchor=west] (M) at (1572,6022) {2021年新人教版六年级上册数学教\\案相关文章：};
\nr{}{m1}{1862}{5791}{★ 2021年小学六年级数学上册教案最新}
\nr{}{m2}{1862}{5840}{★ 人教版六年级上册数学教案范文三篇}
\nr{}{m3}{1862}{5888}{★ 人教版六年级上册数学优秀教案范文三篇}
\nr{}{m4}{1862}{5936}{★ 2021最新人教版数学一年级上册教案}
\nr{}{m5}{1862}{5984}{★ 2021最新一年级人教版数学上册教案}
\nr{w}{m6}{1862}{6040}{★ 2021最新新人教版一年级上册数学左右教案}
\nr{w}{m7}{1862}{6102}{★ 2021新人年新人教版小学一年级数学上册教案}
\nr{}{m8}{1862}{6157}{★ 2021最新年人教版二年级上册数学教案}
\nr{}{m9}{1862}{6205}{★ 2021全新新人教版三年级数学上册教案}
\nr{}{m10}{1862}{6253}{★ 2021最新新人教版七年级上册数学教案}
\kR{M}{m1,m2,m3,m4,m5,m6,m7,m8,m9,m10}
\end{scope}

% ===== center curves =====
\draw[cv,draw=gL] (1409,3643) .. controls (1409,3643) and (1409,1396.5) .. (I.west);
\draw[cv,draw=gL] (1409,3643) .. controls (1409,3643) and (1409,1658) .. (G.east);
\draw[cv,draw=cL] (1409,3643) .. controls (1409,3643) and (1409,2240) .. (B.west);
\draw[cv,draw=pL] (1409,3710) .. controls (1409,3710) and (1409,4128) .. (P.east);
\draw[cv,draw=oL] (1409,3710) .. controls (1409,3710) and (1409,4440) .. (O.west);
\draw[cv,draw=yL] (1409,3710) .. controls (1409,3710) and (1409,5695) .. (Y.east);
\draw[cv,draw=mL] (1409,3710) .. controls (1409,3710) and (1409,6022) .. (M.west);
\end{tikzpicture}
\end{document}
